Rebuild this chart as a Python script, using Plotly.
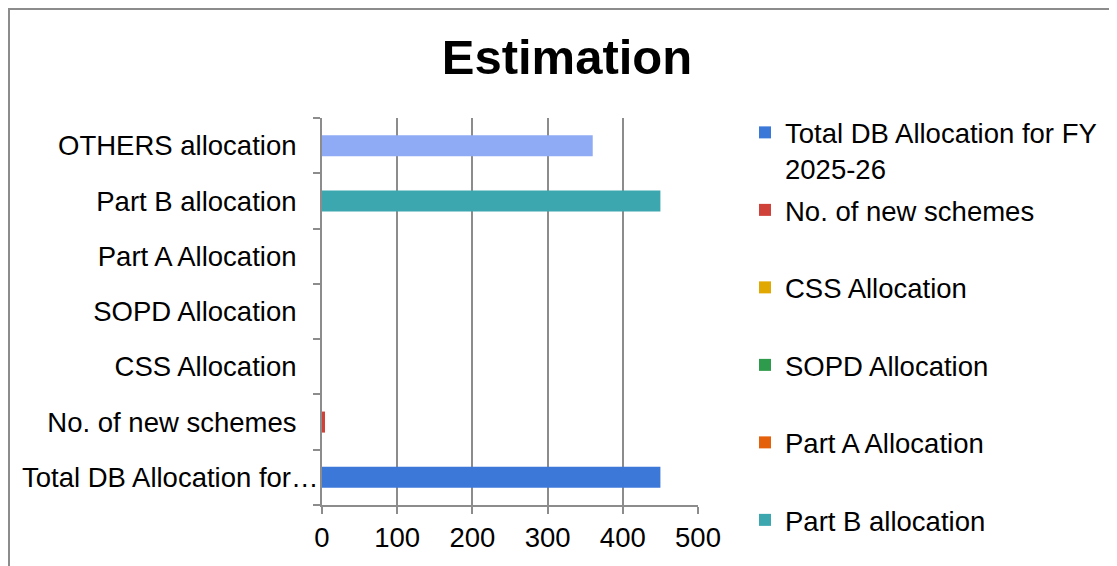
import plotly.graph_objects as go

categories = ["Total DB Allocation for FY 2025-26", "No. of new schemes", "CSS Allocation",
              "SOPD Allocation", "Part A Allocation", "Part B allocation", "OTHERS allocation"]
axis_labels = ["Total DB Allocation for…", "No. of new schemes", "CSS Allocation",
               "SOPD Allocation", "Part A Allocation", "Part B allocation", "OTHERS allocation"]
legend_names = ["Total DB Allocation for FY<br>2025-26", "No. of new schemes<br>\u00a0",
                "CSS Allocation<br>\u00a0", "SOPD Allocation<br>\u00a0", "Part A Allocation<br>\u00a0",
                "Part B allocation<br>\u00a0", "OTHERS allocation<br>\u00a0"]
values = [450, 4, 0, 0, 0, 450, 360]
colors = ["#3C78D8", "#D0413A", "#E0A800", "#2E9A4B", "#E5600A", "#3DA7B0", "#8FABF5"]
x_ticks = [0, 100, 200, 300, 400, 500]

FONT = "Liberation Sans, Arial, sans-serif"
fig = go.Figure()
for cat, name, val, col in zip(categories, legend_names, values, colors):
    fig.add_trace(go.Bar(
        y=[cat], x=[val], name=name, orientation="h", width=0.38,
        marker=dict(color=col, line=dict(width=0)), legendgroup=cat,
    ))

# page body adds an 8px offset; coordinates below are reference pixels minus 8
OFF = 8
W, H = 1117, 566
L, R, T, B = 322 - OFF, 698 - OFF, 118 - OFF, 505 - OFF
def px_x(p):
    return (p - OFF - L) / (R - L)
def px_y(p):
    return (B - (p - OFF)) / (B - T)

# the truncated first label sits closer to the axis (its ellipsis reaches the axis)
tick_text = [""] + axis_labels[1:]

fig.update_layout(
    width=W, height=H,
    margin=dict(l=L, r=W - R, t=T, b=H - B, autoexpand=False),
    paper_bgcolor="white", plot_bgcolor="white",
    barmode="overlay",
    font=dict(family=FONT, size=27.5, color="black"),
    title=dict(text="<b>Estimation</b>", x=(567 - OFF) / W, xanchor="center",
               y=1 - (57 - OFF) / H, yanchor="middle", xref="container", yref="container",
               font=dict(family=FONT, size=49, color="black")),
    showlegend=True,
    legend=dict(x=px_x(745), xanchor="left", y=px_y(108), yanchor="top",
                traceorder="grouped", tracegroupgap=3, valign="top", maxheight=900,
                font=dict(family=FONT, size=27.5, color="black"),
                bgcolor="rgba(0,0,0,0)", itemclick=False, itemdoubleclick=False),
    xaxis=dict(range=[0, 500], tickvals=x_ticks, showgrid=True, gridcolor="#8C8C8C", gridwidth=2,
               ticks="outside", ticklen=7, tickcolor="#8C8C8C", tickwidth=2,
               showline=True, linecolor="#8C8C8C", linewidth=2, zeroline=False,
               tickfont=dict(family=FONT, size=27.5, color="black"), fixedrange=True),
    yaxis=dict(categoryorder="array", categoryarray=categories, tickvals=categories, ticktext=tick_text,
               showgrid=False, ticks="outside", ticklen=7, tickcolor="#8C8C8C", tickwidth=2,
               tickson="boundaries", ticklabelstandoff=18,
               showline=True, linecolor="#8C8C8C", linewidth=2, zeroline=False,
               tickfont=dict(family=FONT, size=27.5, color="black"), fixedrange=True),
    annotations=[dict(text=axis_labels[0], xref="paper", yref="y", x=px_x(321), y=categories[0],
                      xanchor="right", yanchor="middle", showarrow=False,
                      font=dict(family=FONT, size=27.5, color="black"))],
    shapes=[dict(type="rect", xref="paper", yref="paper",
                 x0=px_x(OFF + 0.5), x1=px_x(1140), y0=px_y(640), y1=px_y(OFF + 0.5),
                 line=dict(color="#8C8C8C", width=3), fillcolor="rgba(0,0,0,0)", layer="below")],
)

fig.write_html("out.html")
